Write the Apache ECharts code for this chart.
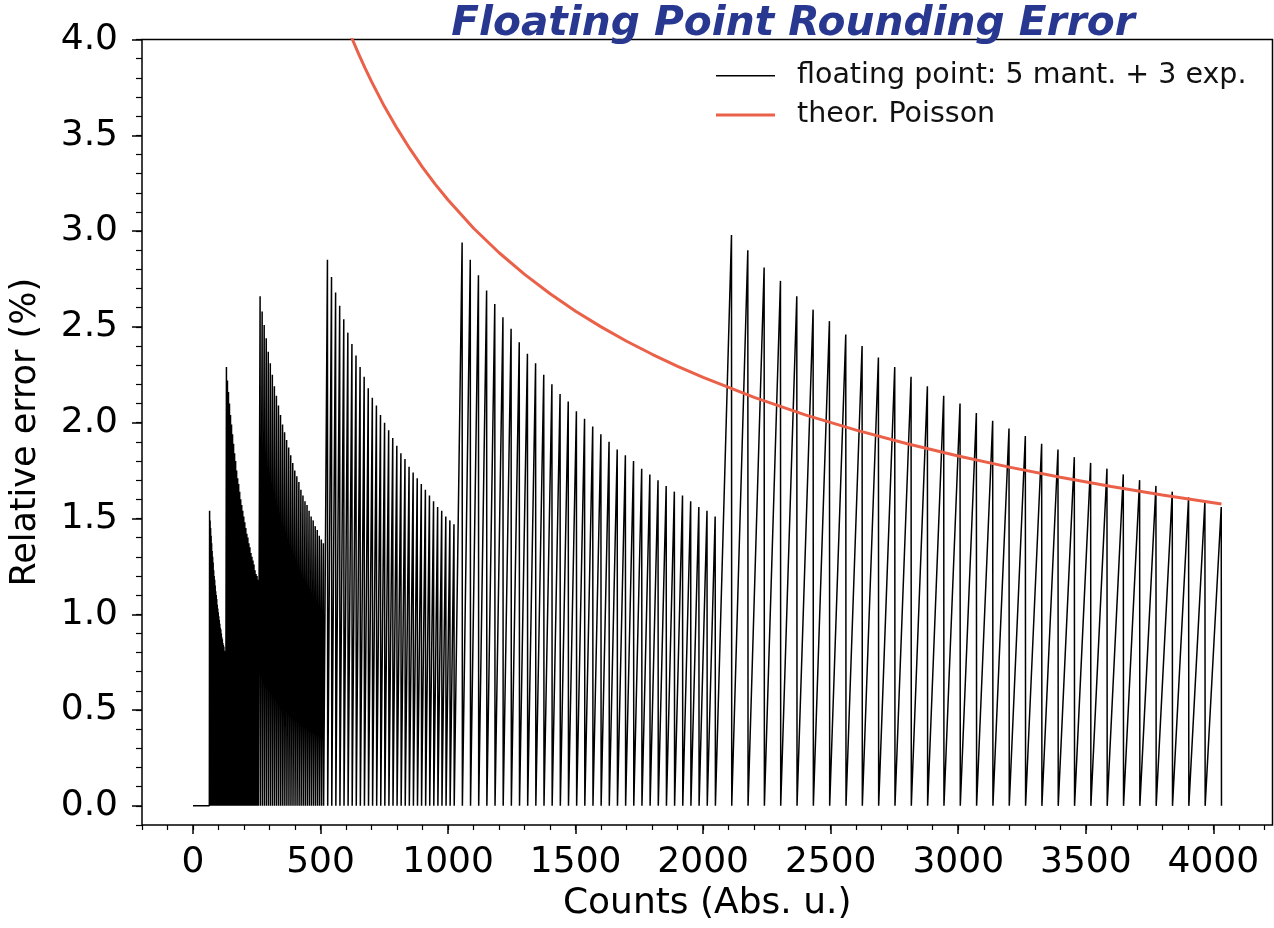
<!DOCTYPE html>
<html>
<head>
<meta charset="utf-8">
<script src="https://cdn.jsdelivr.net/npm/echarts@6/dist/echarts.min.js"></script>
<style>
html,body{margin:0;padding:0;background:#fff;}
#chart{width:1274px;height:928px;}
</style>
</head>
<body>
<div id="chart"></div>
<script>
// ---- data ----
// each octave of the 5-bit mantissa: first count and spacing of representable counts
const octaveStart = [64, 128, 256, 512, 1024, 2048];
const octaveStep  = [2, 4, 8, 16, 32, 64];
// peak relative error (%) of every sawtooth tooth, per octave
const peaksOct1 = [1.54,1.49,1.45,1.41,1.37,1.33,1.30,1.27,1.23,1.20,1.18,1.15,1.12,1.10,1.08,1.05,
                   1.03,1.01,0.99,0.97,0.95,0.93,0.92,0.90,0.88,0.87,0.85,0.84,0.83,0.81,0.80,0.79];
const peaksOct2 = [2.29,2.22,2.16,2.10,2.04,1.99,1.94,1.89,1.84,1.80,1.75,1.71,1.68,1.64,1.60,1.57,
                   1.54,1.51,1.48,1.45,1.42,1.40,1.37,1.35,1.32,1.30,1.28,1.26,1.23,1.21,1.20,1.18];
const peaksOct3 = [2.66,2.58,2.51,2.44,2.37,2.31,2.25,2.19,2.14,2.09,2.04,1.99,1.95,1.91,1.87,1.83,
                   1.79,1.75,1.72,1.69,1.65,1.62,1.59,1.57,1.54,1.51,1.49,1.46,1.44,1.41,1.39,1.37];
const peaksOct4 = [2.85,2.76,2.68,2.61,2.54,2.47,2.41,2.35,2.29,2.24,2.18,2.13,2.09,2.04,2.00,1.96,
                   1.92,1.88,1.84,1.81,1.77,1.74,1.71,1.68,1.65,1.62,1.59,1.56,1.54,1.51,1.49,1.47];
const peaksOct5 = [2.94,2.85,2.77,2.69,2.62,2.55,2.49,2.42,2.36,2.31,2.25,2.20,2.15,2.11,2.06,2.02,
                   1.98,1.94,1.90,1.86,1.83,1.80,1.76,1.73,1.70,1.67,1.64,1.62,1.59,1.56,1.54,1.51];
const peaksOct6 = [2.98,2.90,2.81,2.74,2.66,2.59,2.53,2.46,2.40,2.34,2.29,2.24,2.19,2.14,2.10,2.05,
                   2.01,1.97,1.93,1.89,1.86,1.82,1.79,1.76,1.73,1.70,1.67,1.64,1.61,1.59,1.56];
const countsEnd = 4032;

// theoretical Poisson relative error (%)
const poissonCounts = [600, 625, 650, 675, 700, 750, 800, 850, 900, 950, 1000, 1100, 1200, 1300, 1400, 1500,
                       1600, 1700, 1800, 1900, 2000, 2200, 2400, 2600, 2800, 3000, 3200, 3400, 3600, 3800, 4032];
const poissonError  = [4.082, 4.000, 3.922, 3.849, 3.780, 3.651, 3.536, 3.430, 3.333, 3.244, 3.162, 3.015, 2.887, 2.774, 2.673, 2.582,
                       2.500, 2.425, 2.357, 2.294, 2.236, 2.132, 2.041, 1.961, 1.890, 1.826, 1.768, 1.715, 1.667, 1.622, 1.575];

// tick labels
const xMajorTicks = [0, 500, 1000, 1500, 2000, 2500, 3000, 3500, 4000];
const xTickLabels = ['0', '500', '1000', '1500', '2000', '2500', '3000', '3500', '4000'];
const yMajorTicks = [0, 0.5, 1.0, 1.5, 2.0, 2.5, 3.0, 3.5, 4.0];
const yTickLabels = ['0.0', '0.5', '1.0', '1.5', '2.0', '2.5', '3.0', '3.5', '4.0'];

const titleText = 'Floating Point Rounding Error';
const seriesNames = ['floating point: 5 mant. + 3 exp.', 'theor. Poisson'];
const xName = 'Counts (Abs. u.)';
const yName = 'Relative error (%)';

// ---- build tables ----
const peaksByOctave = [peaksOct1, peaksOct2, peaksOct3, peaksOct4, peaksOct5, peaksOct6];
const fpData = [[0, 0]];
peaksByOctave.forEach((peaks, o) => {
  peaks.forEach((p, i) => {
    const base = octaveStart[o] + i * octaveStep[o];
    fpData.push([base, 0]);
    fpData.push([base + octaveStep[o] - 1, p]);
  });
});
fpData.push([countsEnd, 0]);
const poissonData = poissonCounts.map((c, i) => [c, poissonError[i]]);

const xMinorTicks = [];
for (let k = -2; k <= 42; k++) xMinorTicks.push(k * 100);
const yMinorTicks = [];
for (let k = -1; k <= 40; k++) yMinorTicks.push(k / 10);

const FONT = '"DejaVu Sans", "Noto Sans", sans-serif';
const X_MIN = -200, X_MAX = 4232, Y_MIN = -0.1, Y_MAX = 4.0;
const BLACK = '#000';
const RED = '#ea6049';

const lookup = (vals, labels) => v => {
  const i = vals.findIndex(t => Math.abs(t - v) < 1e-6);
  return i >= 0 ? labels[i] : '';
};

const legendCommon = {
  orient: 'vertical', left: 716, padding: 0, icon: 'rect',
  itemWidth: 59,
  textStyle: { fontSize: 28.5, fontFamily: FONT, color: '#111', lineHeight: 30, padding: [0, 0, 0, 17] }
};

const chart = echarts.init(document.getElementById('chart'), null, {renderer: 'canvas'});
chart.setOption({
  animation: false,
  backgroundColor: '#fff',
  grid: {
    left: 140, right: 1.5, top: 39.5, bottom: 103,
    show: true, borderColor: '#000', borderWidth: 1.5, backgroundColor: 'transparent'
  },
  graphic: [{
    type: 'text', x: 793, y: 4, z: 100,
    style: {
      text: titleText, fill: '#283891',
      font: 'italic bold 40.7px "DejaVu Sans"',
      textAlign: 'center', textVerticalAlign: 'top'
    }
  }],
  legend: [
    Object.assign({}, legendCommon, { top: 60.7, itemHeight: 1.5, data: [seriesNames[0]] }),
    Object.assign({}, legendCommon, { top: 100, itemHeight: 3, data: [seriesNames[1]] })
  ],
  xAxis: [{
    type: 'value', min: X_MIN, max: X_MAX,
    axisLine: { show: false, onZero: false },
    axisTick: { show: true, customValues: xMinorTicks, length: 5, lineStyle: { color: '#000', width: 1.2 } },
    axisLabel: { show: false },
    splitLine: { show: false }
  }, {
    type: 'value', min: X_MIN, max: X_MAX, position: 'bottom',
    axisLine: { show: false, onZero: false },
    axisTick: { show: true, customValues: xMajorTicks, length: 9, lineStyle: { color: '#000', width: 1.5 } },
    axisLabel: {
      show: true, customValues: xMajorTicks, fontSize: 36, fontFamily: FONT, color: '#000', margin: 20,
      formatter: lookup(xMajorTicks, xTickLabels)
    },
    splitLine: { show: false },
    name: xName, nameLocation: 'middle', nameGap: 61,
    nameTextStyle: { fontSize: 36, fontFamily: FONT, color: '#000' }
  }],
  yAxis: [{
    type: 'value', min: Y_MIN, max: Y_MAX,
    axisLine: { show: false, onZero: false },
    axisTick: { show: true, customValues: yMinorTicks, length: 6, lineStyle: { color: '#000', width: 1.2 } },
    axisLabel: { show: false },
    splitLine: { show: false }
  }, {
    type: 'value', min: Y_MIN, max: Y_MAX, position: 'left',
    axisLine: { show: false, onZero: false },
    axisTick: { show: true, customValues: yMajorTicks, length: 10, lineStyle: { color: '#000', width: 1.5 } },
    axisLabel: {
      show: true, customValues: yMajorTicks, fontSize: 36, fontFamily: FONT, color: '#000', margin: 24,
      formatter: lookup(yMajorTicks, yTickLabels)
    },
    splitLine: { show: false },
    name: yName, nameLocation: 'middle', nameGap: 99,
    nameTextStyle: { fontSize: 35, fontFamily: FONT, color: '#000' }
  }],
  series: [{
    name: seriesNames[0], type: 'line', xAxisIndex: 0, yAxisIndex: 0,
    data: fpData, showSymbol: false, symbol: 'none',
    lineStyle: { color: BLACK, width: 1.5 }, itemStyle: { color: BLACK },
    z: 2, silent: true
  }, {
    name: seriesNames[1], type: 'line', xAxisIndex: 0, yAxisIndex: 0,
    data: poissonData, showSymbol: false, symbol: 'none', smooth: false,
    lineStyle: { color: RED, width: 3 }, itemStyle: { color: RED },
    z: 3, silent: true
  }]
});
</script>
</body>
</html>
